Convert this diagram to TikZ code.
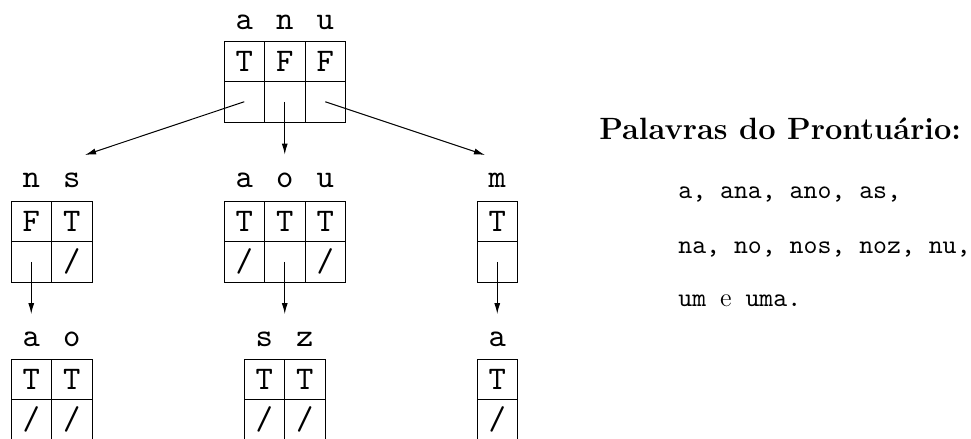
\documentclass[tikz,border=0pt]{standalone}
\usepackage{fontspec}
\newfontfamily\ttten{lmmono10-regular}[Extension=.otf]
\usetikzlibrary{arrows.meta}
\begin{document}
\begin{tikzpicture}[x=0.5pt,y=-0.5pt,
  cell/.style={draw, line width=0.5pt, minimum width=20.25pt, minimum height=20.25pt, inner sep=0pt, text height=10.1pt, text depth=0pt, font=\fontsize{16.5}{19}\selectfont\ttten},
  lbl/.style={anchor=base, inner sep=0pt, font=\fontsize{16.5}{19}\selectfont\ttten},
  arr/.style={-{Latex[length=5.5pt,width=3pt]}, line width=0.5pt},
  head/.style={anchor=base west, inner sep=0pt, font=\fontsize{15.4}{18}\selectfont\bfseries},
  words/.style={anchor=base west, inner sep=0pt, font=\fontsize{13.25}{16}\selectfont\ttten}]
\useasboundingbox (0,0) rectangle (971,439);
% root
\node[cell] (r1t) at (244.25,61.25) {T};
\node[cell] (r2t) at (284.75,61.25) {F};
\node[cell] (r3t) at (325.25,61.25) {F};
\node[cell] (r1b) at (244.25,101.75) {};
\node[cell] (r2b) at (284.75,101.75) {};
\node[cell] (r3b) at (325.25,101.75) {};
\node[lbl] (ra) at (244.25,29) {a};
\node[lbl] (rn) at (284.75,29) {n};
\node[lbl] (ru) at (325.25,29) {u};
% box n s
\node[cell] (b1t) at (31.25,221.25) {F};
\node[cell] (b2t) at (71.75,221.25) {T};
\node[cell] (b1b) at (31.25,261.75) {};
\node[cell] (b2b) at (71.75,261.75) {/};
\node[lbl] (bn) at (31.25,187) {n};
\node[lbl] (bs) at (71.75,187) {s};
% box a o u
\node[cell] (c1t) at (244.25,221.25) {T};
\node[cell] (c2t) at (284.75,221.25) {T};
\node[cell] (c3t) at (325.25,221.25) {T};
\node[cell] (c1b) at (244.25,261.75) {/};
\node[cell] (c2b) at (284.75,261.75) {};
\node[cell] (c3b) at (325.25,261.75) {/};
\node[lbl] (ca) at (244.25,187) {a};
\node[lbl] (co) at (284.75,187) {o};
\node[lbl] (cu) at (325.25,187) {u};
% box m
\node[cell] (d1t) at (497.25,221.25) {T};
\node[cell] (d1b) at (497.25,261.75) {};
\node[lbl] (dm) at (497.25,187) {m};
% box a o (bottom)
\node[cell] (e1t) at (31.25,379.25) {T};
\node[cell] (e2t) at (71.75,379.25) {T};
\node[cell] (e1b) at (31.25,419.75) {/};
\node[cell] (e2b) at (71.75,419.75) {/};
\node[lbl] (ea) at (31.25,346) {a};
\node[lbl] (eo) at (71.75,346) {o};
% box s z
\node[cell] (f1t) at (264.25,379.25) {T};
\node[cell] (f2t) at (304.75,379.25) {T};
\node[cell] (f1b) at (264.25,419.75) {/};
\node[cell] (f2b) at (304.75,419.75) {/};
\node[lbl] (fs) at (264.25,346) {s};
\node[lbl] (fz) at (304.75,346) {z};
% box a (bottom right)
\node[cell] (g1t) at (497.25,379.25) {T};
\node[cell] (g1b) at (497.25,419.75) {/};
\node[lbl] (ga) at (497.25,346) {a};
% arrows
\coordinate (tB) at (85,155);
\coordinate (tC) at (284.75,154.5);
\coordinate (tD) at (485,155);
\coordinate (tE) at (31.25,314);
\coordinate (tF) at (284.75,314);
\coordinate (tG) at (497.25,314);
\draw[arr] (r1b.center) -- (tB);
\draw[arr] (r2b.center) -- (tC);
\draw[arr] (r3b.center) -- (tD);
\draw[arr] (b1b.center) -- (tE);
\draw[arr] (c2b.center) -- (tF);
\draw[arr] (d1b.center) -- (tG);
% text
\node[head] (hd) at (599,139) {Palavras do Prontuário:};
\node[words] (w1) at (678,198.3) {a, ana, ano, as,};
\node[words] (w2) at (678,253) {na, no, nos, noz, nu,};
\node[words] (w3) at (678,306.7) {um {\rmfamily e} uma.};
\end{tikzpicture}
\end{document}
